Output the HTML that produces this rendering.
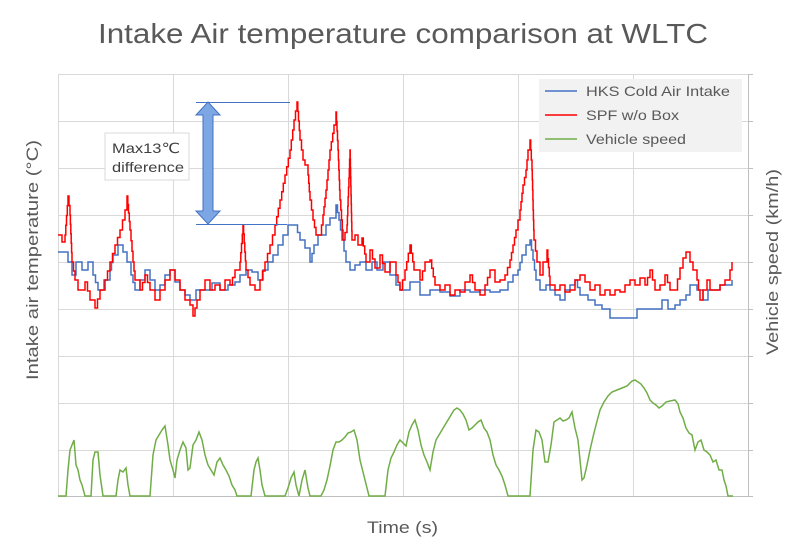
<!DOCTYPE html>
<html><head><meta charset="utf-8"><style>
body{margin:0;background:#fff;}
svg{display:block;font-family:"Liberation Sans","DejaVu Sans",sans-serif;}
</style></head><body>
<svg id="s" width="800" height="552" viewBox="0 0 800 552" xmlns="http://www.w3.org/2000/svg">
<rect width="800" height="552" fill="#fff"/>
<g stroke="#d9d9d9" stroke-width="1">
<line x1="58" y1="74.5" x2="748" y2="74.5"/><line x1="58" y1="121.5" x2="748" y2="121.5"/>
<line x1="58" y1="168.5" x2="748" y2="168.5"/><line x1="58" y1="215.5" x2="748" y2="215.5"/>
<line x1="58" y1="262.5" x2="748" y2="262.5"/><line x1="58" y1="309.5" x2="748" y2="309.5"/>
<line x1="58" y1="356.5" x2="748" y2="356.5"/><line x1="58" y1="403.5" x2="748" y2="403.5"/>
<line x1="58" y1="450.5" x2="748" y2="450.5"/>
<line x1="58.5" y1="74" x2="58.5" y2="496"/><line x1="173.5" y1="74" x2="173.5" y2="496"/>
<line x1="288.5" y1="74" x2="288.5" y2="496"/><line x1="403.5" y1="74" x2="403.5" y2="496"/>
<line x1="518.5" y1="74" x2="518.5" y2="496"/><line x1="633.5" y1="74" x2="633.5" y2="496"/>
</g>
<g stroke="#bfbfbf" stroke-width="1">
<line x1="58" y1="496.5" x2="748" y2="496.5"/>
<line x1="748.5" y1="74" x2="748.5" y2="496"/>
<line x1="748" y1="74.5" x2="753" y2="74.5"/><line x1="748" y1="121.5" x2="753" y2="121.5"/>
<line x1="748" y1="168.5" x2="753" y2="168.5"/><line x1="748" y1="215.5" x2="753" y2="215.5"/>
<line x1="748" y1="262.5" x2="753" y2="262.5"/><line x1="748" y1="309.5" x2="753" y2="309.5"/>
<line x1="748" y1="356.5" x2="753" y2="356.5"/><line x1="748" y1="403.5" x2="753" y2="403.5"/>
<line x1="748" y1="450.5" x2="753" y2="450.5"/><line x1="748" y1="496.5" x2="753" y2="496.5"/>
</g>
<g id="series" fill="none" stroke-width="1.5"></g>
<line x1="196" y1="102.5" x2="290" y2="102.5" stroke="#4472c4" stroke-width="1"/>
<line x1="196" y1="224.5" x2="287" y2="224.5" stroke="#4472c4" stroke-width="1"/>
<path d="M208,102 L220,115 L213,115 L213,211 L220,211 L208,224 L196,211 L203,211 L203,115 L196,115 Z" fill="#7ca6e4" stroke="#4472c4" stroke-width="1"/>
<rect x="105" y="133" width="84" height="47" fill="#fff" stroke="#d9d9d9"/>
<text x="112" y="153" font-size="14" fill="#404040" textLength="68" lengthAdjust="spacingAndGlyphs">Max13℃</text>
<text x="112" y="172" font-size="14" fill="#404040" textLength="72" lengthAdjust="spacingAndGlyphs">difference</text>
<rect x="539" y="79" width="203" height="73" fill="#f2f2f2"/>
<line x1="545" y1="91" x2="577" y2="91" stroke="#4472c4" stroke-width="1.5"/>
<line x1="545" y1="115" x2="577" y2="115" stroke="#ff0000" stroke-width="1.5"/>
<line x1="545" y1="139" x2="577" y2="139" stroke="#70ad47" stroke-width="1.5"/>
<text x="586" y="96" font-size="14" fill="#595959" textLength="144" lengthAdjust="spacingAndGlyphs">HKS Cold Air Intake</text>
<text x="586" y="120" font-size="14" fill="#595959" textLength="93" lengthAdjust="spacingAndGlyphs">SPF w/o Box</text>
<text x="586" y="144" font-size="14" fill="#595959" textLength="100" lengthAdjust="spacingAndGlyphs">Vehicle speed</text>
<text x="98" y="43" font-size="28" fill="#595959" textLength="610" lengthAdjust="spacingAndGlyphs">Intake Air temperature comparison at WLTC</text>
<text x="367" y="533" font-size="17" fill="#595959" textLength="71" lengthAdjust="spacingAndGlyphs">Time (s)</text>
<text transform="translate(38,380) rotate(-90)" font-size="17" fill="#595959" textLength="240" lengthAdjust="spacingAndGlyphs">Intake air temperature (°C)</text>
<text transform="translate(778,355) rotate(-90)" font-size="17" fill="#595959" textLength="186" lengthAdjust="spacingAndGlyphs">Vehicle speed (km/h)</text>
</svg>
<script>
var red=[58,235,62,242,65,235,68,196,70,215,72,262,75,280,78,290,85,282,90,300,95,308,100,290,105,280,110,262,115,245,120,230,125,210,127,196,130,230,133,262,135,280,140,290,145,275,150,290,155,300,160,290,165,280,170,270,175,280,180,290,185,300,190,305,193,316,197,300,200,290,205,280,210,290,215,285,220,290,225,280,230,285,235,270,240,262,243,225,246,270,250,285,255,290,260,280,265,262,270,245,275,225,280,200,285,175,290,150,294,120,297,102,300,140,303,160,305,165,308,175,310,200,313,220,316,235,320,235,323,215,326,190,330,150,334,125,336,112,338,150,340,200,343,240,347,225,350,150,352,240,355,235,358,245,362,238,366,262,370,250,375,268,380,255,385,272,390,262,396,275,400,290,405,270,410,245,414,270,420,280,425,262,430,260,435,285,440,290,445,285,450,295,455,290,460,292,465,282,470,275,475,290,480,295,485,285,490,270,495,282,500,280,505,275,510,260,513,245,516,230,520,210,523,185,526,170,528,150,530,140,532,170,534,240,537,262,540,275,543,262,547,250,550,285,555,290,560,285,565,292,570,290,575,280,580,275,585,282,590,290,595,285,600,295,605,290,610,295,615,290,620,292,625,285,630,280,635,285,640,278,645,285,650,270,655,290,660,285,665,275,670,290,675,290,680,268,683,258,686,252,690,262,693,270,697,280,700,300,703,290,707,280,710,290,715,290,720,285,725,280,730,270,732,262];
var blue=[58,252,65,252,68,262,72,275,76,262,82,270,88,262,93,275,98,290,104,280,110,270,113,255,118,245,123,252,127,262,131,275,135,290,140,280,145,270,150,280,155,290,160,285,165,275,170,270,175,282,180,290,185,295,190,300,196,290,205,290,212,283,220,290,228,285,235,282,240,275,246,270,252,272,258,280,263,270,268,262,273,255,278,245,283,235,288,225,295,225,300,240,305,248,310,262,314,245,318,235,322,235,326,225,330,218,336,205,339,220,342,240,346,262,350,270,355,265,360,262,366,270,372,262,377,270,383,262,390,275,396,285,400,290,410,282,420,295,430,290,440,292,450,296,460,290,470,292,480,290,490,292,500,290,508,282,513,275,518,270,522,255,526,245,530,240,533,260,536,280,540,290,546,285,550,290,555,295,560,300,565,290,570,285,575,280,580,295,588,300,595,305,602,309,610,318,625,318,633,318,637,309,645,309,655,309,662,300,668,309,675,305,680,300,686,295,690,285,697,290,703,300,708,290,715,290,720,285,726,285,732,280];
var green=[58,496,66,496,68,470,70,450,72,445,74,440,76,465,78,470,80,480,82,485,85,496,91,496,93,460,95,452,98,452,100,475,103,496,116,496,118,480,120,470,123,472,126,468,128,485,130,496,150,496,153,455,156,440,159,435,162,430,165,426,168,445,170,460,173,470,175,478,177,460,180,450,183,442,186,448,188,470,190,468,193,445,196,440,199,432,202,440,205,455,208,465,211,470,214,475,217,462,220,458,223,465,226,470,229,476,232,485,235,490,237,496,251,496,254,470,256,462,258,458,260,470,262,485,265,496,285,496,288,488,291,478,294,472,296,485,299,496,302,480,305,470,308,488,310,496,321,496,324,490,327,480,330,466,333,450,336,442,339,442,342,440,345,437,348,433,351,432,354,430,357,440,360,460,363,472,366,484,369,496,385,496,388,470,391,458,394,452,397,445,400,440,403,443,406,446,409,432,412,425,415,420,418,430,421,445,424,455,427,462,430,470,433,452,436,440,439,435,442,430,445,425,448,420,451,415,454,410,457,408,460,410,463,414,466,420,469,430,472,428,475,425,478,422,481,420,484,428,487,432,490,440,493,455,496,465,499,470,502,476,505,485,508,496,530,496,533,450,536,430,539,432,542,440,545,462,548,462,551,445,554,422,557,420,560,418,563,421,566,420,569,418,572,412,575,428,578,440,580,460,582,480,584,478,587,465,590,450,593,437,596,425,600,410,604,402,608,396,612,392,617,390,622,388,627,386,632,381,635,380,638,382,641,384,644,388,647,393,650,400,653,403,656,405,659,408,662,406,666,402,670,401,675,400,678,404,680,412,683,418,686,428,689,433,692,435,695,450,698,442,701,440,704,450,707,452,710,455,713,462,716,460,719,470,722,470,724,480,726,486,728,496,733,496];
function step(a){var d="M"+a[0]+","+a[1];for(var i=2;i<a.length;i+=2){var px=a[i-2],py=a[i-1],x=a[i],y=a[i+1];var n=Math.max(1,Math.round(Math.abs(y-py)/9.4));var dx=(x-px)/n;var cx=px,cy=py;for(var k=1;k<=n;k++){cx=px+dx*k;d+=" H"+cx.toFixed(1);cy=py+(y-py)*k/n;d+=" V"+cy.toFixed(1);}}return d;}
function line(a){var d="M"+a[0]+","+a[1];for(var i=2;i<a.length;i+=2)d+=" L"+a[i]+","+a[i+1];return d;}
var g=document.getElementById("series");
function add(d,c){var p=document.createElementNS("http://www.w3.org/2000/svg","path");p.setAttribute("d",d);p.setAttribute("stroke",c);g.appendChild(p);}
add(step(blue),"#4472c4");add(step(red),"#ff0000");add(line(green),"#70ad47");
</script>
</body></html>
